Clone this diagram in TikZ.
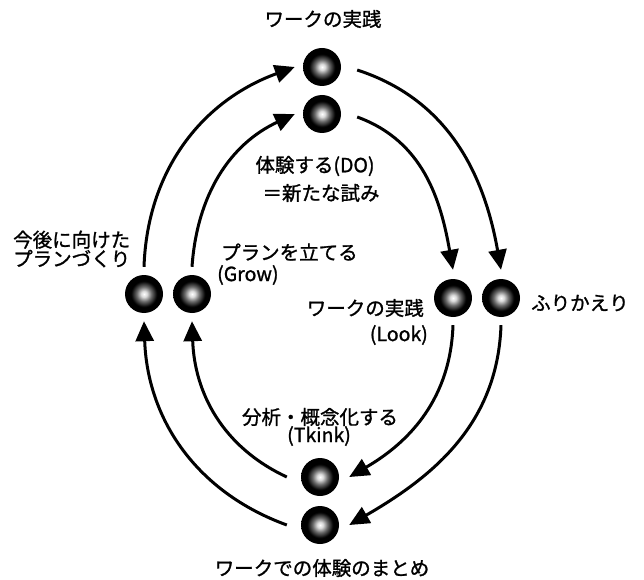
\documentclass[tikz,border=0pt]{standalone}
\usepackage{fontspec}
\setmainfont{Noto Sans CJK JP}[FakeBold=1.2]
\usetikzlibrary{arrows.meta}
\pgfdeclareradialshading{ballshade}{\pgfpoint{0bp}{0bp}}{color(0bp)=(white); color(4bp)=(white!85!black); color(10bp)=(black!60); color(17bp)=(black); color(50bp)=(black)}
\begin{document}
\begin{tikzpicture}[x=1pt,y=1pt,
  ball/.style={circle,minimum size=38pt,inner sep=0pt,shading=ballshade},
  cyc/.style={line width=3pt,-{Triangle[length=20pt,width=18pt]}},
  lbl/.style={font=\fontsize{19.5}{19}\selectfont,inner sep=0pt}]
\useasboundingbox (0,0) rectangle (644,579);
% balls
\node[ball] (t1) at (322,512) {};
\node[ball] (t2) at (322,465) {};
\node[ball] (r2) at (453,281) {};
\node[ball] (r1) at (501,281) {};
\node[ball] (b2) at (320,102) {};
\node[ball] (b1) at (320,54) {};
\node[ball] (l1) at (144,285) {};
\node[ball] (l2) at (192,285) {};
% connectors
\draw[cyc] ([yshift=8pt]l1.north) to[out=88,in=200] ([xshift=-8pt]t1.west);
\draw[cyc] ([yshift=8pt]l2.north) to[out=86,in=205] ([xshift=-8pt]t2.west);
\draw[cyc] ([xshift=16pt,yshift=-3pt]t1.east) to[out=-18,in=100] ([yshift=9pt]r1.north);
\draw[cyc] ([xshift=16pt,yshift=-3pt]t2.east) to[out=-20,in=100] ([yshift=9pt]r2.north);
\draw[cyc] ([yshift=-8pt]r2.south) to[out=-92,in=30] ([xshift=10pt]b2.east);
\draw[cyc] ([yshift=-8pt]r1.south) to[out=-92,in=30] ([xshift=10pt]b1.east);
\draw[cyc] ([xshift=-14pt]b2.west) to[out=155,in=-88] ([yshift=-8pt]l2.south);
\draw[cyc] ([xshift=-14pt]b1.west) to[out=160,in=-88] ([yshift=-8pt]l1.south);
% labels
\node[lbl] (ttop) at (323,560) {ワークの実践};
\node[lbl] (do1) at (315,413) {体験する(DO)};
\node[lbl] (do2) at (321,386) {＝新たな試み};
\node[lbl,anchor=west,align=left] (plan) at (13,330) {今後に向けた\\プランづくり};
\node[lbl,anchor=west] (grow1) at (221,327) {プランを立てる};
\node[lbl,anchor=west] (grow2) at (217,304) {(Grow)};
\node[lbl,anchor=east] (look1) at (424,271) {ワークの実践};
\node[lbl,anchor=east] (look2) at (428,244) {(Look)};
\node[lbl,anchor=west] (furi) at (531,276) {ふりかえり};
\node[lbl] (bun1) at (320,162) {分析・概念化する};
\node[lbl] (bun2) at (319,143) {(Tkink)};
\node[lbl] (matome) at (322,11) {ワークでの体験のまとめ};
\end{tikzpicture}
\end{document}
